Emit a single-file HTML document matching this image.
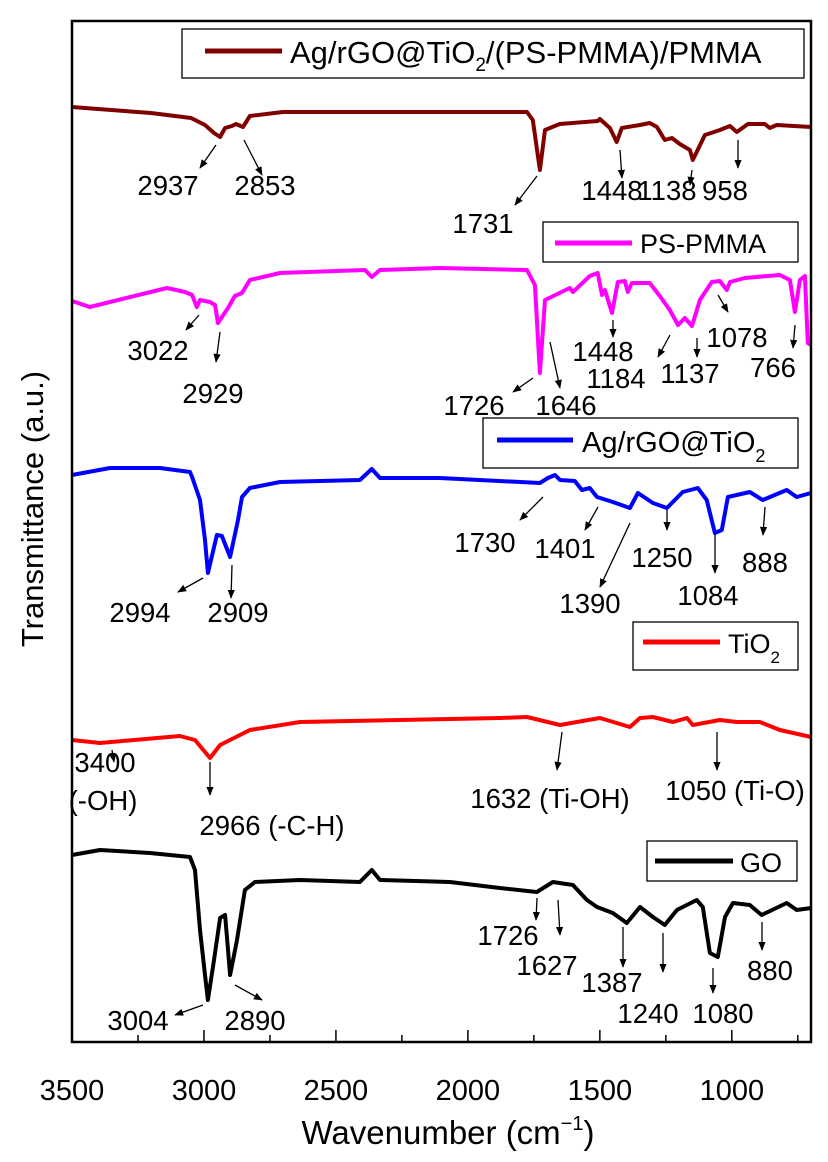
<!DOCTYPE html>
<html><head><meta charset="utf-8"><style>
html,body{margin:0;padding:0;background:#fff;}
svg{display:block;font-family:"Liberation Sans",Arial,sans-serif;}
</style></head><body>
<svg id="chart" width="828" height="1162" viewBox="0 0 828 1162" xmlns="http://www.w3.org/2000/svg">
<defs><marker id="ah" viewBox="0 0 10 10" refX="9" refY="5" markerWidth="9" markerHeight="9" orient="auto-start-reverse" markerUnits="userSpaceOnUse"><path d="M0,1 L10,5 L0,9 z" fill="#000"/></marker></defs>
<g id="curves"></g>
<g id="annot"></g>
<rect x="72" y="21" width="739" height="1021" fill="none" stroke="#000" stroke-width="2.5"/>
<g id="ticks"></g>
<text x="448" y="1144" font-size="33" text-anchor="middle">Wavenumber (cm<tspan font-size="20" dy="-14">−1</tspan><tspan dy="14">)</tspan></text>
<text transform="translate(43,509) rotate(-90)" font-size="31" text-anchor="middle">Transmittance (a.u.)</text>
<g><rect x="182" y="29" width="622" height="49" fill="#fff" stroke="#000" stroke-width="1.3"/><line x1="205" y1="51" x2="282" y2="51" stroke="#800000" stroke-width="5"/><text x="290" y="63" font-size="31">Ag/rGO@TiO<tspan font-size="19" dy="8">2</tspan><tspan dy="-8">/(PS-PMMA)/PMMA</tspan></text></g>
<g><rect x="543" y="222" width="255" height="40" fill="#fff" stroke="#000" stroke-width="1.3"/><line x1="555" y1="243" x2="632" y2="243" stroke="#ff00ff" stroke-width="5"/><text x="640" y="253" font-size="27">PS-PMMA</text></g>
<g><rect x="483" y="418" width="315" height="50" fill="#fff" stroke="#000" stroke-width="1.3"/><line x1="497" y1="440" x2="573" y2="440" stroke="#0000ff" stroke-width="5"/><text x="582" y="452" font-size="29">Ag/rGO@TiO<tspan font-size="18" dy="10">2</tspan></text></g>
<g><rect x="633" y="622" width="165" height="48" fill="#fff" stroke="#000" stroke-width="1.3"/><line x1="643" y1="642" x2="720" y2="642" stroke="#ff0000" stroke-width="5"/><text x="728" y="653" font-size="27">TiO<tspan font-size="17" dy="10">2</tspan></text></g>
<g><rect x="647" y="841" width="150" height="40" fill="#fff" stroke="#000" stroke-width="1.3"/><line x1="655" y1="861" x2="733" y2="861" stroke="#000" stroke-width="5"/><text x="740" y="872" font-size="27">GO</text></g>
</svg>
<script>
// x axis domain (cm^-1)
const xTicks = [3500,3000,2500,2000,1500,1000];
const xTickLabels = ["3500","3000","2500","2000","1500","1000"];
const xMinor = [3250,2750,2250,1750,1250,750];
// Ag/rGO@TiO2/(PS-PMMA)/PMMA
const wnAg2 = [3500,3402,3201,3049,2996,2962,2939,2920,2894,2879,2852,2826,2701,1776,1754,1727,1708,1652,1508,1500,1462,1436,1417,1348,1311,1284,1254,1227,1197,1159,1148,1102,1045,1007,981,939,875,856,830,700];
const tAg2 = [993,991,987,982,975,967,963,972,974,976,973,984,988,988,980,930,970,976,979,981,972,958,972,975,977,973,960,962,956,950,940,965,970,974,968,976,976,972,975,973];
// PS-PMMA
const wnPS = [3500,3432,3140,3072,3045,3027,3015,2977,2958,2947,2909,2883,2856,2826,2712,2390,2364,2333,2106,1776,1746,1727,1708,1614,1602,1538,1508,1492,1481,1454,1432,1405,1394,1379,1311,1273,1235,1204,1178,1151,1121,1076,1045,1019,1007,951,818,780,761,742,723,712,700];
const tPS = [799,793,812,808,805,793,800,798,795,777,792,804,807,820,827,830,823,830,832,830,815,727,800,812,808,824,827,805,810,787,818,819,808,817,817,804,790,775,782,774,800,818,819,810,818,822,825,820,788,820,824,757,755];
// Ag/rGO@TiO2
const wnAg = [3500,3356,3167,3053,3045,3015,2996,2985,2951,2932,2901,2871,2856,2826,2712,2409,2364,2333,2106,1727,1697,1670,1651,1595,1568,1538,1511,1451,1386,1356,1299,1246,1186,1129,1095,1064,1038,1015,932,883,792,754,700];
const tAg = [625,632,632,628,623,600,560,527,565,564,543,580,603,612,618,620,631,622,622,617,622,625,620,619,610,612,603,598,592,607,597,592,608,612,600,567,570,603,608,600,610,603,607];
// TiO2
const wnTi = [3500,3394,3091,3034,2977,2939,2826,2636,1879,1776,1651,1587,1500,1386,1348,1299,1223,1170,1148,1045,981,894,818,700];
const tTi = [360,357,364,360,342,355,370,378,382,383,375,378,382,373,382,383,378,382,375,380,378,378,370,363];
// GO
const wnGO = [3500,3394,3205,3053,3034,3015,2996,2985,2962,2939,2920,2901,2875,2845,2807,2636,2409,2364,2333,2068,1879,1739,1678,1602,1549,1511,1451,1398,1348,1299,1254,1208,1133,1110,1083,1053,1026,996,932,887,792,754,700];
const tGO = [245,250,247,243,230,170,125,100,140,182,185,125,160,210,218,220,218,230,220,218,212,208,218,215,200,193,187,177,193,183,175,190,200,193,147,143,183,197,195,185,197,190,192];

const X0=72,X1=811,Y0=1042,Y1=21;
function xs(w){return X0+(3500-w)*(X1-X0)/2800;}
function ys(v){return 1100-v;}
const NS="http://www.w3.org/2000/svg";
const cg=document.getElementById('curves');
function curve(wn,t,color,name){
  const p=document.createElementNS(NS,'polyline');
  p.setAttribute('points',wn.map((w,i)=>xs(w).toFixed(1)+','+ys(t[i]).toFixed(1)).join(' '));
  p.setAttribute('fill','none');p.setAttribute('stroke',color);p.setAttribute('stroke-width','4');p.setAttribute('stroke-linejoin','round');
  
  
  cg.appendChild(p);
}
curve(wnAg2,tAg2,'#800000','series-ag-rgo-tio2-ps-pmma-pmma');
curve(wnPS,tPS,'#ff00ff','series-ps-pmma');
curve(wnAg,tAg,'#0000ff','series-ag-rgo-tio2');
curve(wnTi,tTi,'#ff0000','series-tio2');
curve(wnGO,tGO,'#000000','series-go');

const tg=document.getElementById('ticks');
xTicks.forEach((w,i)=>{
  const l=document.createElementNS(NS,'line');
  l.setAttribute('x1',xs(w));l.setAttribute('x2',xs(w));l.setAttribute('y1',Y0);l.setAttribute('y2',Y0-12);l.setAttribute('stroke','#000');l.setAttribute('stroke-width','1.5');
  
  
  tg.appendChild(l);
  const t=document.createElementNS(NS,'text');
  t.setAttribute('x',xs(w));t.setAttribute('y',1100);t.setAttribute('font-size','29');t.setAttribute('text-anchor','middle');
  t.textContent=xTickLabels[i];
  
  
  tg.appendChild(t);
});
xMinor.forEach(w=>{
  const l=document.createElementNS(NS,'line');
  l.setAttribute('x1',xs(w));l.setAttribute('x2',xs(w));l.setAttribute('y1',Y0);l.setAttribute('y2',Y0-7);l.setAttribute('stroke','#000');l.setAttribute('stroke-width','1.5');
  
  
  tg.appendChild(l);
});

// peak annotations: label, x, y
const annLabels = [
 ["2937",168,195],["2853",265,195],["1731",483,233],["1448",612,200],["1138",667,200],["958",725,200],
 ["3022",158,360],["2929",213,403],["1448",603,361],["1184",616,388],["1137",690,383],["1078",737,347],["766",773,377],["1726",474,415],["1646",566,415],
 ["1730",485,552],["1401",565,558],["1390",590,613],["1250",662,567],["1084",708,605],["888",765,572],["2994",140,622],["2909",238,622],
 ["3400",105,772],["(-OH)",103,810],["2966 (-C-H)",272,835],["1632 (Ti-OH)",550,808],["1050 (Ti-O)",735,800],
 ["1726",508,945],["1627",547,975],["1387",612,992],["1240",648,1023],["1080",723,1023],["880",770,980],["3004",138,1030],["2890",255,1030]
];
const arrows = [
 [216,145,200,168],[244,140,262,175],[537,176,515,205],[620,150,622,178],[692,170,690,185],[738,140,738,168],
 [199,315,186,330],[220,332,216,362],[533,378,513,392],[550,342,560,388],[613,320,613,337],[670,335,658,357],[697,338,697,357],[718,295,728,312],[795,325,793,348],
 [543,497,520,520],[598,507,585,530],[630,523,600,587],[667,510,667,530],[715,535,715,573],[765,507,763,535],[203,578,178,592],[232,565,231,598],
 [112,750,114,762],[210,762,210,795],[562,732,557,770],[717,732,717,770],
 [537,898,536,920],[558,900,560,935],[623,927,623,967],[663,933,663,972],[713,968,713,993],[762,922,762,950],[203,1005,175,1015],[235,985,262,1000]
];
const ag=document.getElementById('annot');
annLabels.forEach(a=>{
  const t=document.createElementNS(NS,'text');
  t.setAttribute('x',a[1]);t.setAttribute('y',a[2]);t.setAttribute('font-size','27.5');t.setAttribute('text-anchor','middle');
  t.textContent=a[0];
  
  
  ag.appendChild(t);
});
arrows.forEach(a=>{
  const l=document.createElementNS(NS,'line');
  l.setAttribute('x1',a[0]);l.setAttribute('y1',a[1]);l.setAttribute('x2',a[2]);l.setAttribute('y2',a[3]);
  l.setAttribute('stroke','#000');l.setAttribute('stroke-width','1.3');l.setAttribute('marker-end','url(#ah)');
  
  
  ag.appendChild(l);
});
</script>
</body></html>
